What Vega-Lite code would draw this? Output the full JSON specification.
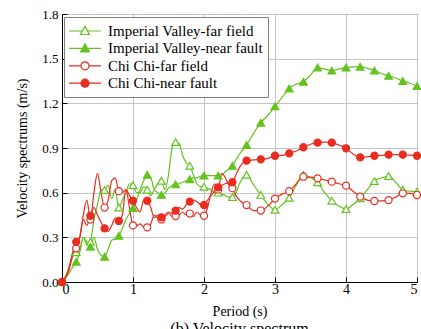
{
  "$schema": "https://vega.github.io/schema/vega-lite/v6.json",
  "width": 355,
  "height": 268,
  "autosize": {"type": "none"},
  "padding": {"left": 62, "top": 14, "right": 4, "bottom": 47},
  "background": "white",
  "title": {
    "text": "(b) Velocity spectrum",
    "orient": "bottom",
    "anchor": "middle",
    "offset": 3,
    "font": "Liberation Serif",
    "fontSize": 16,
    "fontWeight": "normal",
    "color": "black"
  },
  "config": {
    "view": {"stroke": "black", "strokeWidth": 1}
  },
  "data": {
    "values": [
      {"series": "Imperial Valley-far field", "T": 0, "v": 0},
      {"series": "Imperial Valley-far field", "T": 0.05, "v": 0.04},
      {"series": "Imperial Valley-far field", "T": 0.1, "v": 0.1},
      {"series": "Imperial Valley-far field", "T": 0.15, "v": 0.17},
      {"series": "Imperial Valley-far field", "T": 0.2, "v": 0.2},
      {"series": "Imperial Valley-far field", "T": 0.25, "v": 0.22},
      {"series": "Imperial Valley-far field", "T": 0.3, "v": 0.3},
      {"series": "Imperial Valley-far field", "T": 0.35, "v": 0.25},
      {"series": "Imperial Valley-far field", "T": 0.4, "v": 0.27},
      {"series": "Imperial Valley-far field", "T": 0.45, "v": 0.42},
      {"series": "Imperial Valley-far field", "T": 0.5, "v": 0.52},
      {"series": "Imperial Valley-far field", "T": 0.55, "v": 0.62},
      {"series": "Imperial Valley-far field", "T": 0.6, "v": 0.618},
      {"series": "Imperial Valley-far field", "T": 0.65, "v": 0.65},
      {"series": "Imperial Valley-far field", "T": 0.7, "v": 0.56},
      {"series": "Imperial Valley-far field", "T": 0.75, "v": 0.62},
      {"series": "Imperial Valley-far field", "T": 0.8, "v": 0.5},
      {"series": "Imperial Valley-far field", "T": 0.85, "v": 0.55},
      {"series": "Imperial Valley-far field", "T": 0.9, "v": 0.6},
      {"series": "Imperial Valley-far field", "T": 0.95, "v": 0.66},
      {"series": "Imperial Valley-far field", "T": 1.0, "v": 0.65},
      {"series": "Imperial Valley-far field", "T": 1.05, "v": 0.6},
      {"series": "Imperial Valley-far field", "T": 1.1, "v": 0.6},
      {"series": "Imperial Valley-far field", "T": 1.15, "v": 0.64},
      {"series": "Imperial Valley-far field", "T": 1.2, "v": 0.62},
      {"series": "Imperial Valley-far field", "T": 1.25, "v": 0.58},
      {"series": "Imperial Valley-far field", "T": 1.3, "v": 0.62},
      {"series": "Imperial Valley-far field", "T": 1.35, "v": 0.66},
      {"series": "Imperial Valley-far field", "T": 1.4, "v": 0.68},
      {"series": "Imperial Valley-far field", "T": 1.45, "v": 0.62},
      {"series": "Imperial Valley-far field", "T": 1.5, "v": 0.72},
      {"series": "Imperial Valley-far field", "T": 1.55, "v": 0.9},
      {"series": "Imperial Valley-far field", "T": 1.6, "v": 0.94},
      {"series": "Imperial Valley-far field", "T": 1.65, "v": 0.93},
      {"series": "Imperial Valley-far field", "T": 1.7, "v": 0.85},
      {"series": "Imperial Valley-far field", "T": 1.75, "v": 0.8},
      {"series": "Imperial Valley-far field", "T": 1.8, "v": 0.78},
      {"series": "Imperial Valley-far field", "T": 1.85, "v": 0.72},
      {"series": "Imperial Valley-far field", "T": 1.9, "v": 0.66},
      {"series": "Imperial Valley-far field", "T": 1.95, "v": 0.64},
      {"series": "Imperial Valley-far field", "T": 2.0, "v": 0.64},
      {"series": "Imperial Valley-far field", "T": 2.05, "v": 0.63},
      {"series": "Imperial Valley-far field", "T": 2.1, "v": 0.62},
      {"series": "Imperial Valley-far field", "T": 2.15, "v": 0.6},
      {"series": "Imperial Valley-far field", "T": 2.2, "v": 0.6},
      {"series": "Imperial Valley-far field", "T": 2.25, "v": 0.59},
      {"series": "Imperial Valley-far field", "T": 2.3, "v": 0.58},
      {"series": "Imperial Valley-far field", "T": 2.35, "v": 0.57},
      {"series": "Imperial Valley-far field", "T": 2.4, "v": 0.57},
      {"series": "Imperial Valley-far field", "T": 2.45, "v": 0.6},
      {"series": "Imperial Valley-far field", "T": 2.5, "v": 0.66},
      {"series": "Imperial Valley-far field", "T": 2.6, "v": 0.72},
      {"series": "Imperial Valley-far field", "T": 2.7, "v": 0.65},
      {"series": "Imperial Valley-far field", "T": 2.8, "v": 0.585},
      {"series": "Imperial Valley-far field", "T": 2.9, "v": 0.52},
      {"series": "Imperial Valley-far field", "T": 3.0, "v": 0.485},
      {"series": "Imperial Valley-far field", "T": 3.1, "v": 0.52},
      {"series": "Imperial Valley-far field", "T": 3.2, "v": 0.566},
      {"series": "Imperial Valley-far field", "T": 3.3, "v": 0.65},
      {"series": "Imperial Valley-far field", "T": 3.4, "v": 0.72},
      {"series": "Imperial Valley-far field", "T": 3.5, "v": 0.7},
      {"series": "Imperial Valley-far field", "T": 3.6, "v": 0.67},
      {"series": "Imperial Valley-far field", "T": 3.7, "v": 0.6},
      {"series": "Imperial Valley-far field", "T": 3.8, "v": 0.546},
      {"series": "Imperial Valley-far field", "T": 3.9, "v": 0.51},
      {"series": "Imperial Valley-far field", "T": 4.0, "v": 0.49},
      {"series": "Imperial Valley-far field", "T": 4.1, "v": 0.52},
      {"series": "Imperial Valley-far field", "T": 4.2, "v": 0.562},
      {"series": "Imperial Valley-far field", "T": 4.3, "v": 0.62},
      {"series": "Imperial Valley-far field", "T": 4.4, "v": 0.678},
      {"series": "Imperial Valley-far field", "T": 4.5, "v": 0.7},
      {"series": "Imperial Valley-far field", "T": 4.6, "v": 0.712},
      {"series": "Imperial Valley-far field", "T": 4.7, "v": 0.67},
      {"series": "Imperial Valley-far field", "T": 4.8, "v": 0.62},
      {"series": "Imperial Valley-far field", "T": 4.9, "v": 0.61},
      {"series": "Imperial Valley-far field", "T": 5.0, "v": 0.606},

      {"series": "Imperial Valley-near fault", "T": 0, "v": 0},
      {"series": "Imperial Valley-near fault", "T": 0.05, "v": 0.03},
      {"series": "Imperial Valley-near fault", "T": 0.1, "v": 0.06},
      {"series": "Imperial Valley-near fault", "T": 0.15, "v": 0.1},
      {"series": "Imperial Valley-near fault", "T": 0.2, "v": 0.136},
      {"series": "Imperial Valley-near fault", "T": 0.25, "v": 0.2},
      {"series": "Imperial Valley-near fault", "T": 0.3, "v": 0.3},
      {"series": "Imperial Valley-near fault", "T": 0.35, "v": 0.27},
      {"series": "Imperial Valley-near fault", "T": 0.4, "v": 0.237},
      {"series": "Imperial Valley-near fault", "T": 0.45, "v": 0.3},
      {"series": "Imperial Valley-near fault", "T": 0.5, "v": 0.22},
      {"series": "Imperial Valley-near fault", "T": 0.55, "v": 0.18},
      {"series": "Imperial Valley-near fault", "T": 0.6, "v": 0.17},
      {"series": "Imperial Valley-near fault", "T": 0.65, "v": 0.22},
      {"series": "Imperial Valley-near fault", "T": 0.7, "v": 0.28},
      {"series": "Imperial Valley-near fault", "T": 0.75, "v": 0.29},
      {"series": "Imperial Valley-near fault", "T": 0.8, "v": 0.31},
      {"series": "Imperial Valley-near fault", "T": 0.85, "v": 0.36},
      {"series": "Imperial Valley-near fault", "T": 0.9, "v": 0.42},
      {"series": "Imperial Valley-near fault", "T": 0.95, "v": 0.46},
      {"series": "Imperial Valley-near fault", "T": 1.0, "v": 0.497},
      {"series": "Imperial Valley-near fault", "T": 1.05, "v": 0.55},
      {"series": "Imperial Valley-near fault", "T": 1.1, "v": 0.62},
      {"series": "Imperial Valley-near fault", "T": 1.15, "v": 0.68},
      {"series": "Imperial Valley-near fault", "T": 1.2, "v": 0.72},
      {"series": "Imperial Valley-near fault", "T": 1.25, "v": 0.7},
      {"series": "Imperial Valley-near fault", "T": 1.3, "v": 0.62},
      {"series": "Imperial Valley-near fault", "T": 1.35, "v": 0.6},
      {"series": "Imperial Valley-near fault", "T": 1.4, "v": 0.585},
      {"series": "Imperial Valley-near fault", "T": 1.45, "v": 0.6},
      {"series": "Imperial Valley-near fault", "T": 1.5, "v": 0.63},
      {"series": "Imperial Valley-near fault", "T": 1.55, "v": 0.65},
      {"series": "Imperial Valley-near fault", "T": 1.6, "v": 0.656},
      {"series": "Imperial Valley-near fault", "T": 1.65, "v": 0.66},
      {"series": "Imperial Valley-near fault", "T": 1.7, "v": 0.67},
      {"series": "Imperial Valley-near fault", "T": 1.75, "v": 0.68},
      {"series": "Imperial Valley-near fault", "T": 1.8, "v": 0.69},
      {"series": "Imperial Valley-near fault", "T": 1.85, "v": 0.7},
      {"series": "Imperial Valley-near fault", "T": 1.9, "v": 0.7},
      {"series": "Imperial Valley-near fault", "T": 1.95, "v": 0.71},
      {"series": "Imperial Valley-near fault", "T": 2.0, "v": 0.715},
      {"series": "Imperial Valley-near fault", "T": 2.05, "v": 0.715},
      {"series": "Imperial Valley-near fault", "T": 2.1, "v": 0.715},
      {"series": "Imperial Valley-near fault", "T": 2.15, "v": 0.715},
      {"series": "Imperial Valley-near fault", "T": 2.2, "v": 0.715},
      {"series": "Imperial Valley-near fault", "T": 2.25, "v": 0.72},
      {"series": "Imperial Valley-near fault", "T": 2.3, "v": 0.74},
      {"series": "Imperial Valley-near fault", "T": 2.35, "v": 0.76},
      {"series": "Imperial Valley-near fault", "T": 2.4, "v": 0.78},
      {"series": "Imperial Valley-near fault", "T": 2.45, "v": 0.82},
      {"series": "Imperial Valley-near fault", "T": 2.5, "v": 0.86},
      {"series": "Imperial Valley-near fault", "T": 2.6, "v": 0.92},
      {"series": "Imperial Valley-near fault", "T": 2.7, "v": 1.0},
      {"series": "Imperial Valley-near fault", "T": 2.8, "v": 1.07},
      {"series": "Imperial Valley-near fault", "T": 2.9, "v": 1.12},
      {"series": "Imperial Valley-near fault", "T": 3.0, "v": 1.18},
      {"series": "Imperial Valley-near fault", "T": 3.1, "v": 1.24},
      {"series": "Imperial Valley-near fault", "T": 3.2, "v": 1.3},
      {"series": "Imperial Valley-near fault", "T": 3.3, "v": 1.33},
      {"series": "Imperial Valley-near fault", "T": 3.4, "v": 1.345},
      {"series": "Imperial Valley-near fault", "T": 3.5, "v": 1.39},
      {"series": "Imperial Valley-near fault", "T": 3.6, "v": 1.44},
      {"series": "Imperial Valley-near fault", "T": 3.7, "v": 1.43},
      {"series": "Imperial Valley-near fault", "T": 3.8, "v": 1.42},
      {"series": "Imperial Valley-near fault", "T": 3.9, "v": 1.43},
      {"series": "Imperial Valley-near fault", "T": 4.0, "v": 1.44},
      {"series": "Imperial Valley-near fault", "T": 4.1, "v": 1.445},
      {"series": "Imperial Valley-near fault", "T": 4.2, "v": 1.446},
      {"series": "Imperial Valley-near fault", "T": 4.3, "v": 1.435},
      {"series": "Imperial Valley-near fault", "T": 4.4, "v": 1.42},
      {"series": "Imperial Valley-near fault", "T": 4.5, "v": 1.4},
      {"series": "Imperial Valley-near fault", "T": 4.6, "v": 1.385},
      {"series": "Imperial Valley-near fault", "T": 4.7, "v": 1.37},
      {"series": "Imperial Valley-near fault", "T": 4.8, "v": 1.35},
      {"series": "Imperial Valley-near fault", "T": 4.9, "v": 1.335},
      {"series": "Imperial Valley-near fault", "T": 5.0, "v": 1.316},

      {"series": "Chi Chi-far field", "T": 0, "v": 0},
      {"series": "Chi Chi-far field", "T": 0.05, "v": 0.03},
      {"series": "Chi Chi-far field", "T": 0.1, "v": 0.08},
      {"series": "Chi Chi-far field", "T": 0.15, "v": 0.18},
      {"series": "Chi Chi-far field", "T": 0.2, "v": 0.226},
      {"series": "Chi Chi-far field", "T": 0.25, "v": 0.3},
      {"series": "Chi Chi-far field", "T": 0.3, "v": 0.45},
      {"series": "Chi Chi-far field", "T": 0.35, "v": 0.55},
      {"series": "Chi Chi-far field", "T": 0.4, "v": 0.42},
      {"series": "Chi Chi-far field", "T": 0.45, "v": 0.6},
      {"series": "Chi Chi-far field", "T": 0.5, "v": 0.73},
      {"series": "Chi Chi-far field", "T": 0.55, "v": 0.6},
      {"series": "Chi Chi-far field", "T": 0.6, "v": 0.5},
      {"series": "Chi Chi-far field", "T": 0.65, "v": 0.55},
      {"series": "Chi Chi-far field", "T": 0.7, "v": 0.68},
      {"series": "Chi Chi-far field", "T": 0.75, "v": 0.7},
      {"series": "Chi Chi-far field", "T": 0.8, "v": 0.61},
      {"series": "Chi Chi-far field", "T": 0.85, "v": 0.6},
      {"series": "Chi Chi-far field", "T": 0.9, "v": 0.62},
      {"series": "Chi Chi-far field", "T": 0.95, "v": 0.5},
      {"series": "Chi Chi-far field", "T": 1.0, "v": 0.38},
      {"series": "Chi Chi-far field", "T": 1.05, "v": 0.38},
      {"series": "Chi Chi-far field", "T": 1.1, "v": 0.39},
      {"series": "Chi Chi-far field", "T": 1.15, "v": 0.37},
      {"series": "Chi Chi-far field", "T": 1.2, "v": 0.367},
      {"series": "Chi Chi-far field", "T": 1.25, "v": 0.39},
      {"series": "Chi Chi-far field", "T": 1.3, "v": 0.45},
      {"series": "Chi Chi-far field", "T": 1.35, "v": 0.43},
      {"series": "Chi Chi-far field", "T": 1.4, "v": 0.42},
      {"series": "Chi Chi-far field", "T": 1.45, "v": 0.44},
      {"series": "Chi Chi-far field", "T": 1.5, "v": 0.46},
      {"series": "Chi Chi-far field", "T": 1.55, "v": 0.44},
      {"series": "Chi Chi-far field", "T": 1.6, "v": 0.443},
      {"series": "Chi Chi-far field", "T": 1.65, "v": 0.45},
      {"series": "Chi Chi-far field", "T": 1.7, "v": 0.47},
      {"series": "Chi Chi-far field", "T": 1.75, "v": 0.45},
      {"series": "Chi Chi-far field", "T": 1.8, "v": 0.46},
      {"series": "Chi Chi-far field", "T": 1.85, "v": 0.44},
      {"series": "Chi Chi-far field", "T": 1.9, "v": 0.47},
      {"series": "Chi Chi-far field", "T": 1.95, "v": 0.45},
      {"series": "Chi Chi-far field", "T": 2.0, "v": 0.445},
      {"series": "Chi Chi-far field", "T": 2.05, "v": 0.5},
      {"series": "Chi Chi-far field", "T": 2.1, "v": 0.6},
      {"series": "Chi Chi-far field", "T": 2.15, "v": 0.66},
      {"series": "Chi Chi-far field", "T": 2.2, "v": 0.62},
      {"series": "Chi Chi-far field", "T": 2.25, "v": 0.73},
      {"series": "Chi Chi-far field", "T": 2.3, "v": 0.7},
      {"series": "Chi Chi-far field", "T": 2.35, "v": 0.65},
      {"series": "Chi Chi-far field", "T": 2.4, "v": 0.63},
      {"series": "Chi Chi-far field", "T": 2.45, "v": 0.58},
      {"series": "Chi Chi-far field", "T": 2.5, "v": 0.55},
      {"series": "Chi Chi-far field", "T": 2.6, "v": 0.517},
      {"series": "Chi Chi-far field", "T": 2.7, "v": 0.48},
      {"series": "Chi Chi-far field", "T": 2.8, "v": 0.48},
      {"series": "Chi Chi-far field", "T": 2.9, "v": 0.51},
      {"series": "Chi Chi-far field", "T": 3.0, "v": 0.56},
      {"series": "Chi Chi-far field", "T": 3.1, "v": 0.59},
      {"series": "Chi Chi-far field", "T": 3.2, "v": 0.61},
      {"series": "Chi Chi-far field", "T": 3.3, "v": 0.66},
      {"series": "Chi Chi-far field", "T": 3.4, "v": 0.707},
      {"series": "Chi Chi-far field", "T": 3.5, "v": 0.705},
      {"series": "Chi Chi-far field", "T": 3.6, "v": 0.696},
      {"series": "Chi Chi-far field", "T": 3.7, "v": 0.685},
      {"series": "Chi Chi-far field", "T": 3.8, "v": 0.674},
      {"series": "Chi Chi-far field", "T": 3.9, "v": 0.66},
      {"series": "Chi Chi-far field", "T": 4.0, "v": 0.647},
      {"series": "Chi Chi-far field", "T": 4.1, "v": 0.61},
      {"series": "Chi Chi-far field", "T": 4.2, "v": 0.573},
      {"series": "Chi Chi-far field", "T": 4.3, "v": 0.55},
      {"series": "Chi Chi-far field", "T": 4.4, "v": 0.544},
      {"series": "Chi Chi-far field", "T": 4.5, "v": 0.545},
      {"series": "Chi Chi-far field", "T": 4.6, "v": 0.55},
      {"series": "Chi Chi-far field", "T": 4.7, "v": 0.57},
      {"series": "Chi Chi-far field", "T": 4.8, "v": 0.596},
      {"series": "Chi Chi-far field", "T": 4.9, "v": 0.595},
      {"series": "Chi Chi-far field", "T": 5.0, "v": 0.584},

      {"series": "Chi Chi-near fault", "T": 0, "v": 0},
      {"series": "Chi Chi-near fault", "T": 0.05, "v": 0.03},
      {"series": "Chi Chi-near fault", "T": 0.1, "v": 0.1},
      {"series": "Chi Chi-near fault", "T": 0.15, "v": 0.2},
      {"series": "Chi Chi-near fault", "T": 0.2, "v": 0.27},
      {"series": "Chi Chi-near fault", "T": 0.25, "v": 0.3},
      {"series": "Chi Chi-near fault", "T": 0.3, "v": 0.42},
      {"series": "Chi Chi-near fault", "T": 0.35, "v": 0.38},
      {"series": "Chi Chi-near fault", "T": 0.4, "v": 0.445},
      {"series": "Chi Chi-near fault", "T": 0.45, "v": 0.5},
      {"series": "Chi Chi-near fault", "T": 0.5, "v": 0.45},
      {"series": "Chi Chi-near fault", "T": 0.55, "v": 0.4},
      {"series": "Chi Chi-near fault", "T": 0.6, "v": 0.36},
      {"series": "Chi Chi-near fault", "T": 0.65, "v": 0.34},
      {"series": "Chi Chi-near fault", "T": 0.7, "v": 0.38},
      {"series": "Chi Chi-near fault", "T": 0.75, "v": 0.43},
      {"series": "Chi Chi-near fault", "T": 0.8, "v": 0.41},
      {"series": "Chi Chi-near fault", "T": 0.85, "v": 0.45},
      {"series": "Chi Chi-near fault", "T": 0.9, "v": 0.62},
      {"series": "Chi Chi-near fault", "T": 0.95, "v": 0.58},
      {"series": "Chi Chi-near fault", "T": 1.0, "v": 0.546},
      {"series": "Chi Chi-near fault", "T": 1.05, "v": 0.5},
      {"series": "Chi Chi-near fault", "T": 1.1, "v": 0.47},
      {"series": "Chi Chi-near fault", "T": 1.15, "v": 0.55},
      {"series": "Chi Chi-near fault", "T": 1.2, "v": 0.546},
      {"series": "Chi Chi-near fault", "T": 1.25, "v": 0.5},
      {"series": "Chi Chi-near fault", "T": 1.3, "v": 0.43},
      {"series": "Chi Chi-near fault", "T": 1.35, "v": 0.45},
      {"series": "Chi Chi-near fault", "T": 1.4, "v": 0.434},
      {"series": "Chi Chi-near fault", "T": 1.45, "v": 0.45},
      {"series": "Chi Chi-near fault", "T": 1.5, "v": 0.47},
      {"series": "Chi Chi-near fault", "T": 1.55, "v": 0.46},
      {"series": "Chi Chi-near fault", "T": 1.6, "v": 0.479},
      {"series": "Chi Chi-near fault", "T": 1.65, "v": 0.5},
      {"series": "Chi Chi-near fault", "T": 1.7, "v": 0.49},
      {"series": "Chi Chi-near fault", "T": 1.75, "v": 0.52},
      {"series": "Chi Chi-near fault", "T": 1.8, "v": 0.54},
      {"series": "Chi Chi-near fault", "T": 1.85, "v": 0.55},
      {"series": "Chi Chi-near fault", "T": 1.9, "v": 0.54},
      {"series": "Chi Chi-near fault", "T": 1.95, "v": 0.52},
      {"series": "Chi Chi-near fault", "T": 2.0, "v": 0.517},
      {"series": "Chi Chi-near fault", "T": 2.05, "v": 0.55},
      {"series": "Chi Chi-near fault", "T": 2.1, "v": 0.58},
      {"series": "Chi Chi-near fault", "T": 2.15, "v": 0.61},
      {"series": "Chi Chi-near fault", "T": 2.2, "v": 0.636},
      {"series": "Chi Chi-near fault", "T": 2.25, "v": 0.65},
      {"series": "Chi Chi-near fault", "T": 2.3, "v": 0.66},
      {"series": "Chi Chi-near fault", "T": 2.35, "v": 0.665},
      {"series": "Chi Chi-near fault", "T": 2.4, "v": 0.67},
      {"series": "Chi Chi-near fault", "T": 2.45, "v": 0.72},
      {"series": "Chi Chi-near fault", "T": 2.5, "v": 0.77},
      {"series": "Chi Chi-near fault", "T": 2.6, "v": 0.815},
      {"series": "Chi Chi-near fault", "T": 2.7, "v": 0.82},
      {"series": "Chi Chi-near fault", "T": 2.8, "v": 0.824},
      {"series": "Chi Chi-near fault", "T": 2.9, "v": 0.83},
      {"series": "Chi Chi-near fault", "T": 3.0, "v": 0.848},
      {"series": "Chi Chi-near fault", "T": 3.1, "v": 0.85},
      {"series": "Chi Chi-near fault", "T": 3.2, "v": 0.864},
      {"series": "Chi Chi-near fault", "T": 3.3, "v": 0.88},
      {"series": "Chi Chi-near fault", "T": 3.4, "v": 0.905},
      {"series": "Chi Chi-near fault", "T": 3.5, "v": 0.925},
      {"series": "Chi Chi-near fault", "T": 3.6, "v": 0.936},
      {"series": "Chi Chi-near fault", "T": 3.7, "v": 0.94},
      {"series": "Chi Chi-near fault", "T": 3.8, "v": 0.936},
      {"series": "Chi Chi-near fault", "T": 3.9, "v": 0.92},
      {"series": "Chi Chi-near fault", "T": 4.0, "v": 0.898},
      {"series": "Chi Chi-near fault", "T": 4.1, "v": 0.86},
      {"series": "Chi Chi-near fault", "T": 4.2, "v": 0.837},
      {"series": "Chi Chi-near fault", "T": 4.3, "v": 0.84},
      {"series": "Chi Chi-near fault", "T": 4.4, "v": 0.848},
      {"series": "Chi Chi-near fault", "T": 4.5, "v": 0.85},
      {"series": "Chi Chi-near fault", "T": 4.6, "v": 0.855},
      {"series": "Chi Chi-near fault", "T": 4.7, "v": 0.855},
      {"series": "Chi Chi-near fault", "T": 4.8, "v": 0.855},
      {"series": "Chi Chi-near fault", "T": 4.9, "v": 0.852},
      {"series": "Chi Chi-near fault", "T": 5.0, "v": 0.848}
    ]
  },
  "encoding": {
    "x": {
      "field": "T",
      "type": "quantitative",
      "scale": {"domain": [0, 5], "nice": false},
      "axis": {
        "title": "Period (s)",
        "values": [0, 1, 2, 3, 4, 5],
        "tickSize": -5,
        "tickColor": "black",
        "domainColor": "black",
        "gridColor": "#c4c4c4",
        "labelPadding": 5,
        "labelFont": "Liberation Serif",
        "labelFontSize": 14,
        "labelColor": "black",
        "titleFont": "Liberation Serif",
        "titleFontSize": 14,
        "titleFontWeight": "normal",
        "titleColor": "black",
        "titlePadding": 8
      }
    },
    "y": {
      "field": "v",
      "type": "quantitative",
      "scale": {"domain": [0, 1.8], "nice": false},
      "axis": {
        "title": "Velocity spectrums (m/s)",
        "values": [0, 0.3, 0.6, 0.9, 1.2, 1.5, 1.8],
        "format": ".1f",
        "tickSize": -5,
        "tickColor": "black",
        "domainColor": "black",
        "gridColor": "#c4c4c4",
        "labelPadding": 9,
        "labelFont": "Liberation Serif",
        "labelFontSize": 13,
        "labelColor": "black",
        "titleFont": "Liberation Serif",
        "titleFontSize": 14,
        "titleFontWeight": "normal",
        "titleColor": "black",
        "titlePadding": 12
      }
    }
  },
  "layer": [
    {
      "mark": {"type": "line", "strokeWidth": 1.2, "interpolate": "monotone"},
      "encoding": {
        "color": {
          "field": "series",
          "type": "nominal",
          "scale": {
            "domain": ["Imperial Valley-far field", "Imperial Valley-near fault", "Chi Chi-far field", "Chi Chi-near fault"],
            "range": ["#63c31f", "#63c31f", "#ea2b1f", "#ea2b1f"]
          },
          "legend": {
            "orient": "none",
            "legendX": 2,
            "legendY": 3,
            "title": null,
            "fillColor": "white",
            "strokeColor": "#808080",
            "padding": 5,
            "symbolSize": 256,
            "symbolOffset": 7,
            "labelOffset": 14,
            "rowPadding": 0.4,
            "labelFont": "Liberation Serif",
            "labelFontSize": 15,
            "labelColor": "black",
            "labelLimit": 300,
            "encode": {
              "symbols": {
                "update": {
                  "shape": {"signal": "indexof(datum.value, 'Imperial') === 0 ? 'M-2,0H-0.32M0.32,0H2M0,-0.58L0.56,0.44L-0.56,0.44Z' : 'M-2,0H-0.5M0.5,0H2M0.5,0A0.5,0.5 0 1 1 -0.5,0A0.5,0.5 0 1 1 0.5,0Z'"},
                  "fill": {"signal": "indexof(datum.value, 'far field') > 0 ? 'white' : scale('color', datum.value)"},
                  "stroke": {"signal": "scale('color', datum.value)"},
                  "strokeWidth": {"value": 1.2}
                }
              }
            }
          }
        }
      }
    },
    {
      "transform": [
        {"filter": "datum.series === 'Imperial Valley-far field' && abs(datum.T * 5 - round(datum.T * 5)) < 0.001"}
      ],
      "mark": {"type": "point", "shape": "triangle-up", "filled": true, "fill": "white", "stroke": "#63c31f", "strokeWidth": 1.2, "opacity": 1, "size": 60}
    },
    {
      "transform": [
        {"filter": "datum.series === 'Imperial Valley-near fault' && abs(datum.T * 5 - round(datum.T * 5)) < 0.001"}
      ],
      "mark": {"type": "point", "shape": "triangle-up", "filled": true, "fill": "#63c31f", "stroke": "#63c31f", "strokeWidth": 1.2, "opacity": 1, "size": 60}
    },
    {
      "transform": [
        {"filter": "datum.series === 'Chi Chi-far field' && abs(datum.T * 5 - round(datum.T * 5)) < 0.001"}
      ],
      "mark": {"type": "point", "shape": "circle", "filled": true, "fill": "white", "stroke": "#ea2b1f", "strokeWidth": 1.2, "opacity": 1, "size": 50}
    },
    {
      "transform": [
        {"filter": "datum.series === 'Chi Chi-near fault' && abs(datum.T * 5 - round(datum.T * 5)) < 0.001"}
      ],
      "mark": {"type": "point", "shape": "circle", "filled": true, "fill": "#ea2b1f", "stroke": "#ea2b1f", "strokeWidth": 1.2, "opacity": 1, "size": 50}
    }
  ]
}
